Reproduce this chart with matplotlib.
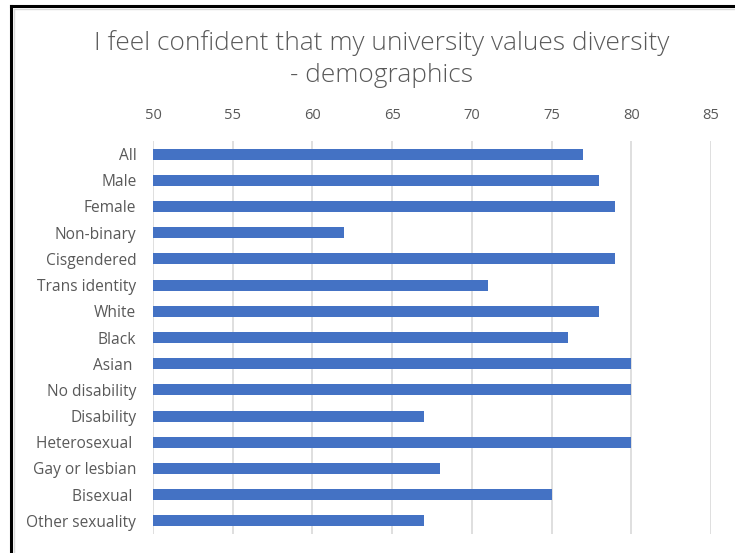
import matplotlib
matplotlib.use("Agg")
import matplotlib.pyplot as plt
from matplotlib.lines import Line2D

categories = ["All", "Male", "Female", "Non-binary", "Cisgendered", "Trans identity",
              "White", "Black", "Asian ", "No disability", "Disability", "Heterosexual ",
              "Gay or lesbian", "Bisexual ", "Other sexuality"]
values = [77, 78, 79, 62, 79, 71, 78, 76, 80, 80, 67, 80, 68, 75, 67]
xticks = [50, 55, 60, 65, 70, 75, 80, 85]
title = "I feel confident that my university values diversity\n- demographics"

plt.rcParams['font.family'] = ['Open Sans', 'DejaVu Sans']
txt = "#595959"

fig = plt.figure(figsize=(7.35, 5.53), dpi=100)
ax = fig.add_axes([153/735, 1-534/553, (711-153)/735, (534-141)/553])

y = list(range(len(categories)))
ax.barh(y, [v - 50 for v in values], left=50, height=0.42, color="#4472C4", zorder=3)
ax.set_xlim(50, 85)
ax.set_ylim(len(categories) - 0.5, -0.5)
ax.set_xticks(xticks)
ax.set_xticklabels([str(t) for t in xticks])
ax.xaxis.tick_top()
ax.set_yticks(y)
ax.set_yticklabels(categories)
ax.tick_params(axis='both', length=0, labelcolor=txt)
ax.tick_params(axis='x', pad=13, labelsize=10.5)
ax.tick_params(axis='y', pad=12, labelsize=11.2)
ax.grid(axis='x', color="#D9D9D9", linewidth=1.2, zorder=0)
for s in ax.spines.values():
    s.set_visible(False)

fig.text(382/735, 1-59/553, title, ha='center', va='center', fontsize=18.9,
         color=txt, linespacing=1.36, fontweight='light')

# outer frame (left and top edges)
fig.add_artist(Line2D([11/735, 11/735], [0, 1-6/553], transform=fig.transFigure,
                      color="black", linewidth=2.2))
fig.add_artist(Line2D([11/735, 1], [1-6/553, 1-6/553], transform=fig.transFigure,
                      color="black", linewidth=2.2))
fig.add_artist(Line2D([14/735, 14/735], [0, 1-9/553], transform=fig.transFigure,
                      color="#D9D9D9", linewidth=1))
fig.add_artist(Line2D([14/735, 1], [1-9/553, 1-9/553], transform=fig.transFigure,
                      color="#D9D9D9", linewidth=1))

fig.savefig("out.png", dpi=100)
